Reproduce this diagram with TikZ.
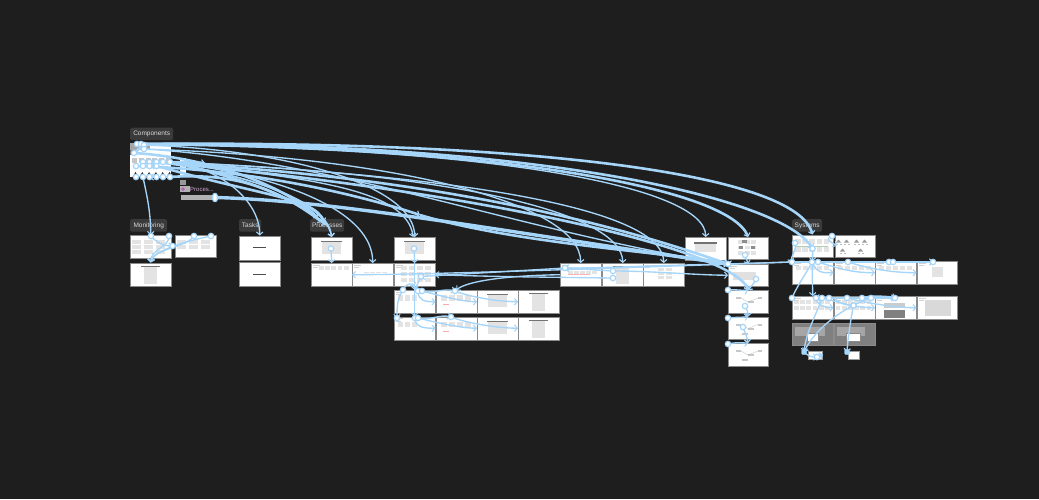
\documentclass[tikz,border=0pt]{standalone}
\usepackage{fontspec}
\setmainfont{Liberation Sans}
\usetikzlibrary{arrows.meta}
\definecolor{bgc}{HTML}{1E1E1E}
\definecolor{tagc}{HTML}{3A3A3A}
\definecolor{wirec}{HTML}{A6D5FA}
\definecolor{edgec}{HTML}{8A8A8A}
\tikzset{
  x=1pt,y=-1pt,
  framebox/.style={draw=edgec,line width=.4pt,fill=white,anchor=north west,inner sep=0pt,minimum width=#1},
  tag/.style={fill=tagc,rounded corners=1.5pt,anchor=north west,inner sep=0pt,text=white!85!black,font=\fontsize{6.5}{7}\selectfont,minimum height=12.5pt,align=center},
  wire/.style={draw=wirec,line width=1.35pt,-{Straight Barb[length=2.8pt,width=6.5pt,line width=1.1pt]}},
  wireplain/.style={draw=wirec,line width=1.35pt},
  fat/.style={line width=2.6pt},
  hnd/.style={circle,draw=wirec,fill=white,line width=1.2pt,inner sep=0pt,minimum size=5.4pt},
  hsq/.style={rectangle,rounded corners=.8pt,draw=wirec,fill=wirec,inner sep=0pt,minimum size=4.6pt},
  pale/.style={fill=black!11},
  dark/.style={fill=black!55},
}
% name x y w h content
\newcommand\frm[6]{%
  \node[framebox=#4pt,minimum height=#5pt] (#1) at (#2,#3) {};
  \begin{scope}[shift={(#2,#3)}]#6\end{scope}}
\newcommand\ctab{\fill[dark] (10,4.2) rectangle (31,5.4);\fill[pale] (11,5.4) rectangle (30,17);}
\newcommand\ctabB{\fill[dark] (11,3) rectangle (30,4);\fill[pale] (14,4) rectangle (27,21);}
\newcommand\grd[6]{\foreach \ci in {1,...,#1}{\foreach \cj in {1,...,#2}{%
  \fill[pale] ({#3+(\ci-1)*#5},{#4+(\cj-1)*#6}) rectangle ++({#5*.78},{#6*.72});}}}
\newcommand\dash{\fill[black!70] (14,11.6) rectangle (27,12.6);}
\newcommand\txtl{\fill[black!18] (2,1.5) rectangle (9,2.1);\fill[black!18] (2,4) rectangle (7,4.5);}
\newcommand\flow{\fill[black!22] (8,7) rectangle (13,9);\fill[black!22] (20,11) rectangle (26,13);\fill[black!22] (30,7) rectangle (34,9);\fill[black!22] (14,16) rectangle (20,18);\draw[black!30,line width=.25pt] (13,8)--(20,12)--(30,8);}
\newcommand\treeic[2]{\fill[black!40] (#1,#2) -- ++(2.5,3) -- ++(-5,0) -- cycle;\fill[black!25] ({#1-3},{#2+4}) rectangle ++(2,1.5);\fill[black!25] ({#1+1},{#2+4}) rectangle ++(2,1.5);}
\begin{document}
\begin{tikzpicture}
\useasboundingbox[fill=bgc] (0,0) rectangle (1039,499);
% Tags
\node[tag,minimum width=43pt] (tcomp) at (130,127.5) {Components};
\node[tag,minimum width=37pt] (tmon) at (130,219) {Monitoring};
\node[tag,minimum width=22pt] (ttask) at (239,219) {Tasks};
\node[tag,minimum width=34pt] (tproc) at (310,219) {Processes};
\node[tag,minimum width=30pt] (tsys) at (792,219) {Systems};
% Components sheet
\node[framebox=41pt,minimum height=34pt,draw=none] (comp) at (130,143) {};
\fill[black!35] (130,143) rectangle (150,150);
\fill[black!55] (130,150) rectangle (134,155);
\foreach \i in {0,...,5}{\fill[black!22] ({132+\i*6.8},158) rectangle ++(5,5);
  \fill[bgc] ({132.5+\i*6.8},177) -- ++(3,-5) -- ++(3,5) -- cycle;}
\node[framebox=6pt,minimum height=19pt,draw=none] (cbox) at (180,158) {};
\fill[black!40] (180,180) rectangle (186,185);
\fill[black!30] (180,186) rectangle (190,192);
\fill[violet!60!white] (183,187) -- (185,189) -- (183,191) -- (181,189) -- cycle;
\node[anchor=west,inner sep=0pt,text=violet!35!white,font=\fontsize{6}{7}\selectfont] (plabel) at (190,189.5) {Proces...};
\node[fill=black!30,anchor=north west,inner sep=0pt,minimum width=34pt,minimum height=5pt] (pbar) at (181,194.5) {};
% Frames
\frm{m1}{130}{235}{41}{23}{\grd{3}{3}{2}{5}{12}{5}}
\frm{m2}{174.5}{235}{41}{22}{\grd{3}{2}{2}{5}{12}{5}}
\frm{m3}{130}{262.5}{41}{23}{\ctabB}
\frm{k1}{239}{235.5}{41}{24}{\dash}
\frm{k2}{239}{262}{41}{24}{\dash}
\frm{p1}{311}{237}{41}{23}{\ctab}
\frm{p2}{311}{263}{41}{23}{\grd{5}{1}{8}{3}{6.2}{6}\txtl}
\frm{p3}{352}{263}{41}{23}{\grd{4}{2}{12}{9}{6}{2}\txtl}
\frm{q1}{394}{237}{41}{23}{\ctab}
\frm{q2}{394}{263}{41}{23}{\grd{4}{3}{7}{3}{8}{6}\txtl}
\frm{ra}{394}{290}{41}{23}{\grd{3}{1}{4}{5}{7}{8}\txtl}
\frm{rb}{435.5}{290}{41}{23}{\grd{4}{1}{5}{5}{8}{8}\fill[red!35] (7,14) rectangle (13,14.8);}
\frm{rc}{477}{290}{41}{23}{\ctab}
\frm{rd}{518}{290}{41}{23}{\ctabB}
\frm{sa}{394}{316.5}{41}{23}{\grd{3}{1}{4}{5}{7}{8}\txtl}
\frm{sb}{435.5}{316.5}{41}{23}{\grd{4}{1}{5}{5}{8}{8}\fill[red!35] (7,14) rectangle (13,14.8);}
\frm{sc}{477}{316.5}{41}{23}{\ctab}
\frm{sd}{518}{316.5}{41}{23}{\ctabB}
\frm{u1}{560}{263}{41}{23}{\grd{5}{2}{8}{4}{6}{4}\fill[red!30] (8,11) rectangle (30,11.8);\txtl}
\frm{u2}{602}{263}{41}{23}{\ctabB}
\frm{u3}{643}{263}{41}{23}{\grd{2}{3}{15}{5}{8}{4}\txtl}
\frm{v1}{685}{237}{41}{23}{\fill[dark] (9,5) rectangle (32,7);\fill[pale] (10,7) rectangle (31,15);}
\frm{c1}{728}{237}{40}{22}{\grd{3}{3}{10}{3}{6.5}{5.5}\fill[black!45] (14,3) rectangle (19,6);\fill[black!45] (11,9) rectangle (15,12);\fill[black!45] (23,9) rectangle (27,12);}
\frm{c2}{728}{264}{40}{22}{\txtl\fill[black!12] (5,8) rectangle (28,16);}
\frm{c3}{728}{290}{40}{22.5}{\flow}
\frm{c4}{728}{316.5}{40}{22.5}{\flow}
\frm{c5}{728}{343}{40}{22.5}{\flow}
\frm{y1}{792}{234.5}{40.5}{22.5}{\grd{5}{2}{3}{4}{7.2}{8}\fill[green!40!black!30] (3,11) rectangle (36,11.6);}
\frm{y2}{834.5}{234.5}{40.5}{22.5}{\treeic{4}{5}\treeic{12}{5}\treeic{22}{5}\treeic{30}{5}\treeic{8}{14}\treeic{26}{14}}
\frm{w1}{792}{261}{41}{23}{\grd{5}{1}{4}{5}{7}{6}\txtl}
\frm{w2}{833.5}{261}{41}{23}{\grd{5}{1}{4}{5}{7}{6}\txtl}
\frm{w3}{875}{261}{41}{23}{\grd{5}{1}{4}{5}{7}{6}\txtl}
\frm{w4}{916.5}{261}{40.5}{23}{\fill[pale] (15,6) rectangle (26,16);\txtl}
\frm{z1}{792}{296}{41}{23}{\grd{6}{2}{2}{4}{6.2}{6}\txtl}
\frm{z2}{833.5}{296}{41}{23}{\grd{6}{2}{2}{4}{6.2}{6}\txtl}
\frm{z3}{875}{296}{41}{23}{\fill[black!50] (9,14) rectangle (30,22);\fill[black!20] (9,7) rectangle (30,12);\txtl}
\frm{z4}{916.5}{296}{40.5}{23}{\fill[black!15] (8,4) rectangle (34,20);\txtl}
\node[framebox=41pt,minimum height=22.5pt,fill=black!50,draw=black!45] (g1) at (792,322.7) {};
\node[framebox=41pt,minimum height=22.5pt,fill=black!50,draw=black!45] (g2) at (833.5,322.7) {};
\fill[black!35] (795,327) rectangle (825,336);
\fill[black!35] (837,327) rectangle (865,336);
\node[framebox=11pt,minimum height=8pt] (g1i) at (807,333) {};
\node[framebox=14pt,minimum height=8pt] (g2i) at (846,333) {};
\node[framebox=14pt,minimum height=8pt,draw=black!40] (d1) at (808,350.5) {};
\node[framebox=11pt,minimum height=8pt,draw=black!40] (d2) at (848,350.5) {};
% Handles
\foreach \n/\x/\y in {a1/137/144,a2/141/144,a3/144/145,a4/144/149,a5/134/153,
 b2/143/162,b3/149.5/162,b4/156.5/162,b5/163/162,b6/170/162,
 b7/136/166,b8/143/166,b9/149.5/166,b10/156.5/166,
 e1/136/177,e2/143/177,e3/149.5/177,e4/156.5/177,e5/163/177,e6/170/177,
 ma/151/236,mb/169/236,mc/172.5/246,md/194/236,me/211/236,
 pa/331/248.5,qa/414/248.5,qb/421/276.5,qc/403/290,qd/418/291,qe/422/291,qf/455/291,
 qg/397/318,qh/415/318,qi/418/318,qj/451/317,
 ua/565/268,ub/613/271,uc/613/278,
 ca/745/255,cb/728/264,cc/756/279,cd/728/290,ce/745/306,cf/728/318,ch/743/327,ci/728/344,
 ya/795/243,yb/812.5/248.5,yc/832/236,
 wa/792/262,wb/812/262,wc/818/262,wd/848/262,we/889/262,wf/893/262,wg/933/262,
 za/792/298,zb/816/298,zc/822/298,zd/829/298,ze/847/298,zf/862/298,zg/871/298,zh/895/298,zi/853.5/305.5,
 dc/817/357}{\coordinate (\n) at (\x,\y);}
\coordinate (pb) at (215,197.5);
\coordinate (da) at (804,352);
\coordinate (db) at (847,352);
\coordinate (dd) at (823,354.5);
% Long connectors from Components
\begin{scope}[every path/.style={wire}]
\draw (e2) .. controls +(3,15) and +(0,-25) .. (m1.north);
\draw (b6) .. controls +(50,5) and +(0,-35) .. (k1.north);
\draw (b3) .. controls +(60,5) and +(-5,-45) .. (p1.north);
\draw (b5) .. controls +(70,10) and +(-8,-40) .. (p1.north);
\draw (b6) .. controls +(120,15) and +(0,-50) .. (p3.north);
\draw (a3) .. controls +(150,5) and +(0,-50) .. (q1.north);
\draw (b4) .. controls +(150,15) and +(-8,-60) .. (q1);
\draw (a4) .. controls +(250,8) and +(0,-60) .. (u1.north);
\draw (b5) .. controls +(290,10) and +(0,-50) .. (u2.north);
\draw (b6) .. controls +(320,15) and +(0,-50) .. (u3.north);
\draw (a3) .. controls +(350,2) and +(0,-50) .. (v1.north);
\draw[fat] (a2) .. controls +(350,2) and +(-20,-50) .. (c1.north);
\draw[fat] (a1) .. controls +(400,-4) and +(-15,-60) .. (y1.north);
\draw[wireplain,fat] (a2) .. controls +(400,-2) and +(-30,-50) .. (yb);
\draw[fat] (b4) .. controls +(330,30) and +(-15,-40) .. (c3.north);
\draw[wireplain,fat] (b3) .. controls +(300,15) and +(-100,-35) .. (cb);
\draw[wireplain,fat] (b2) .. controls +(120,35) and +(-10,-25) .. (324,222);
\draw[wireplain,fat] (b6) .. controls +(90,20) and +(-30,-25) .. (326,225);
\draw[wireplain,fat] (e6) .. controls +(70,-5) and +(-40,-30) .. (322,222);
\draw[wireplain,fat] (a5) .. controls +(80,5) and +(-30,-30) .. (318,218);
\draw[wireplain,fat] (b6) -- (205,163);
\draw[wireplain,fat] (e6) -- (150,177);
\draw[wireplain,fat] (b7) -- (b10);
\draw[wireplain,fat] (a5) -- (a3);
\draw[wireplain,fat] (b7) .. controls +(120,4) and +(-60,-20) .. (420,215);
\draw[wireplain,fat] (420,215) .. controls +(100,30) and +(-40,-10) .. (cb);
\draw[wireplain] (a4) .. controls +(200,12) and +(-200,-30) .. (cb);
\draw[wireplain,line width=3.4pt] (pb) .. controls +(120,3) and +(-240,-35) .. (cb);
\end{scope}
% Local connectors
\begin{scope}[every path/.style={wire}]
% Monitoring
\draw (mb) .. controls +(0,12) and +(0,-14) .. (m3.north);
\draw (md) .. controls +(-8,12) and +(2,-14) .. (m3.north);
\draw (me) .. controls +(-25,5) and +(3,-12) .. (m3.north);
\draw[wireplain] (ma) .. controls +(5,6) and +(-10,0) .. (mc);
% Processes
\draw (pa) -- (p2.north);
\draw (qa) -- (q2.north);
\draw (q2.north) -- (ra.north);
\draw (ra.north) -- (sa.north);
\draw (wa) .. controls +(-150,5) and +(80,0) .. (p3.west);
\draw (u1.west) .. controls +(-60,1) and +(10,-8) .. (rb.north);
\draw[wireplain] (cb) .. controls +(-100,2) and +(50,0) .. (ua);
\draw[wireplain] (ua) -- (qb);
\draw (qb) -- (ra.north);
\draw (qc) .. controls +(-5,8) and +(0,-15) .. (qg);
\draw[wireplain] (qc) .. controls +(4,-8) and +(-2,-3) .. (q2.south);
\draw (qd) .. controls +(0,10) and +(-10,0) .. (rb.west);
\draw (qe) .. controls +(20,5) and +(-15,0) .. (rc.west);
\draw (qf) .. controls +(15,6) and +(-20,0) .. (rd.west);
\draw[wireplain] (qe) .. controls +(10,3) and +(-10,-3) .. (qf);
\draw (qh) .. controls +(0,10) and +(-10,0) .. (sb.west);
\draw (qi) .. controls +(20,5) and +(-15,0) .. (sc.west);
\draw (qj) .. controls +(15,6) and +(-20,0) .. (sd.west);
\draw[wireplain] (qi) .. controls +(10,3) and +(-10,-3) .. (qj);
\draw (ub) .. controls +(40,0) and +(-30,0) .. (c2.west);
\draw[wireplain] (uc) .. controls +(-80,-1) and +(60,2) .. (q2.east);
\draw[wireplain] (ub) -- (ua);
\draw[wireplain] (wa) -- (cb);
% Column
\draw (ca) -- (c2.north);
\draw (cc) .. controls +(-3,6) and +(3,-4) .. (c3.north);
\draw (cd) .. controls +(8,-1) and +(-5,1) .. (c3.north);
\draw (ce) .. controls +(2,4) and +(0,-4) .. (c4.north);
\draw (cf) .. controls +(8,-1) and +(-5,1) .. (c4.north);
\draw (ch) .. controls +(2,6) and +(-1,-6) .. (c5.north);
\draw (ci) .. controls +(8,-2) and +(-5,0) .. (c5.north);
% Systems
\draw (yb) -- (w1.north);
\draw (yc) .. controls +(-8,3) and +(-6,-3) .. (837,245.5);
\draw[wireplain] (ya) .. controls +(2,8) and +(-2,-5) .. (wa);
\draw (wb) .. controls +(5,11) and +(-12,0) .. (w2.west);
\draw (wc) .. controls +(25,8) and +(-20,0) .. (w3.west);
\draw (wd) .. controls +(25,8) and +(-20,0) .. (w4.west);
\draw[wireplain] (wa) -- (wg);
\draw (w1.north) .. controls +(-1,10) and +(0,-10) .. (z1.north);
\draw[wireplain] (za) .. controls +(5,-12) and +(-4,8) .. (w1.north);
\draw (zb) .. controls +(0,6) and +(-10,0) .. (z2.west);
\draw (zc) .. controls +(25,6) and +(-20,0) .. (z3.west);
\draw (ze) .. controls +(25,6) and +(-20,0) .. (z4.west);
\draw[wireplain] (zd) -- (zh);
\draw[wireplain] (zc) .. controls +(-5,15) and +(2,-20) .. (da);
\draw[wireplain] (zg) .. controls +(-25,8) and +(12,-25) .. (da);
\draw[wireplain] (zi) .. controls +(-3,15) and +(1,-15) .. (db);
\draw[wireplain] (zi) .. controls +(-25,-2) and +(30,-2) .. (zb);
\draw[wireplain] (zf) .. controls +(5,-3) and +(-5,-2) .. (zh);
\draw[wireplain] (da) .. controls +(5,5) and +(-4,0) .. (dc);
\draw[wireplain,line width=2.6pt] (dc) -- (dd);
\end{scope}
% Handle marks
\foreach \n in {a1,a2,a3,a4,a5,b2,b3,b4,b5,b6,b7,b8,b9,b10,e1,e2,e3,e4,e5,e6,ma,mb,mc,md,me,pa,qa,qb,qc,qd,qe,qf,qg,qh,qi,qj,ua,ub,uc,ca,cb,cc,cd,ce,cf,ch,ci,ya,yb,yc,wa,wb,wc,wd,we,wf,wg,za,zb,zc,zd,ze,zf,zg,zh,zi,dc}
  {\node[hnd] at (\n) {};}
\node[hnd,minimum size=4.4pt,minimum height=8pt,rounded corners=2pt,rectangle] at (pb) {};
\node[hsq] at (da) {};
\node[hsq] at (db) {};
\end{tikzpicture}
\end{document}
